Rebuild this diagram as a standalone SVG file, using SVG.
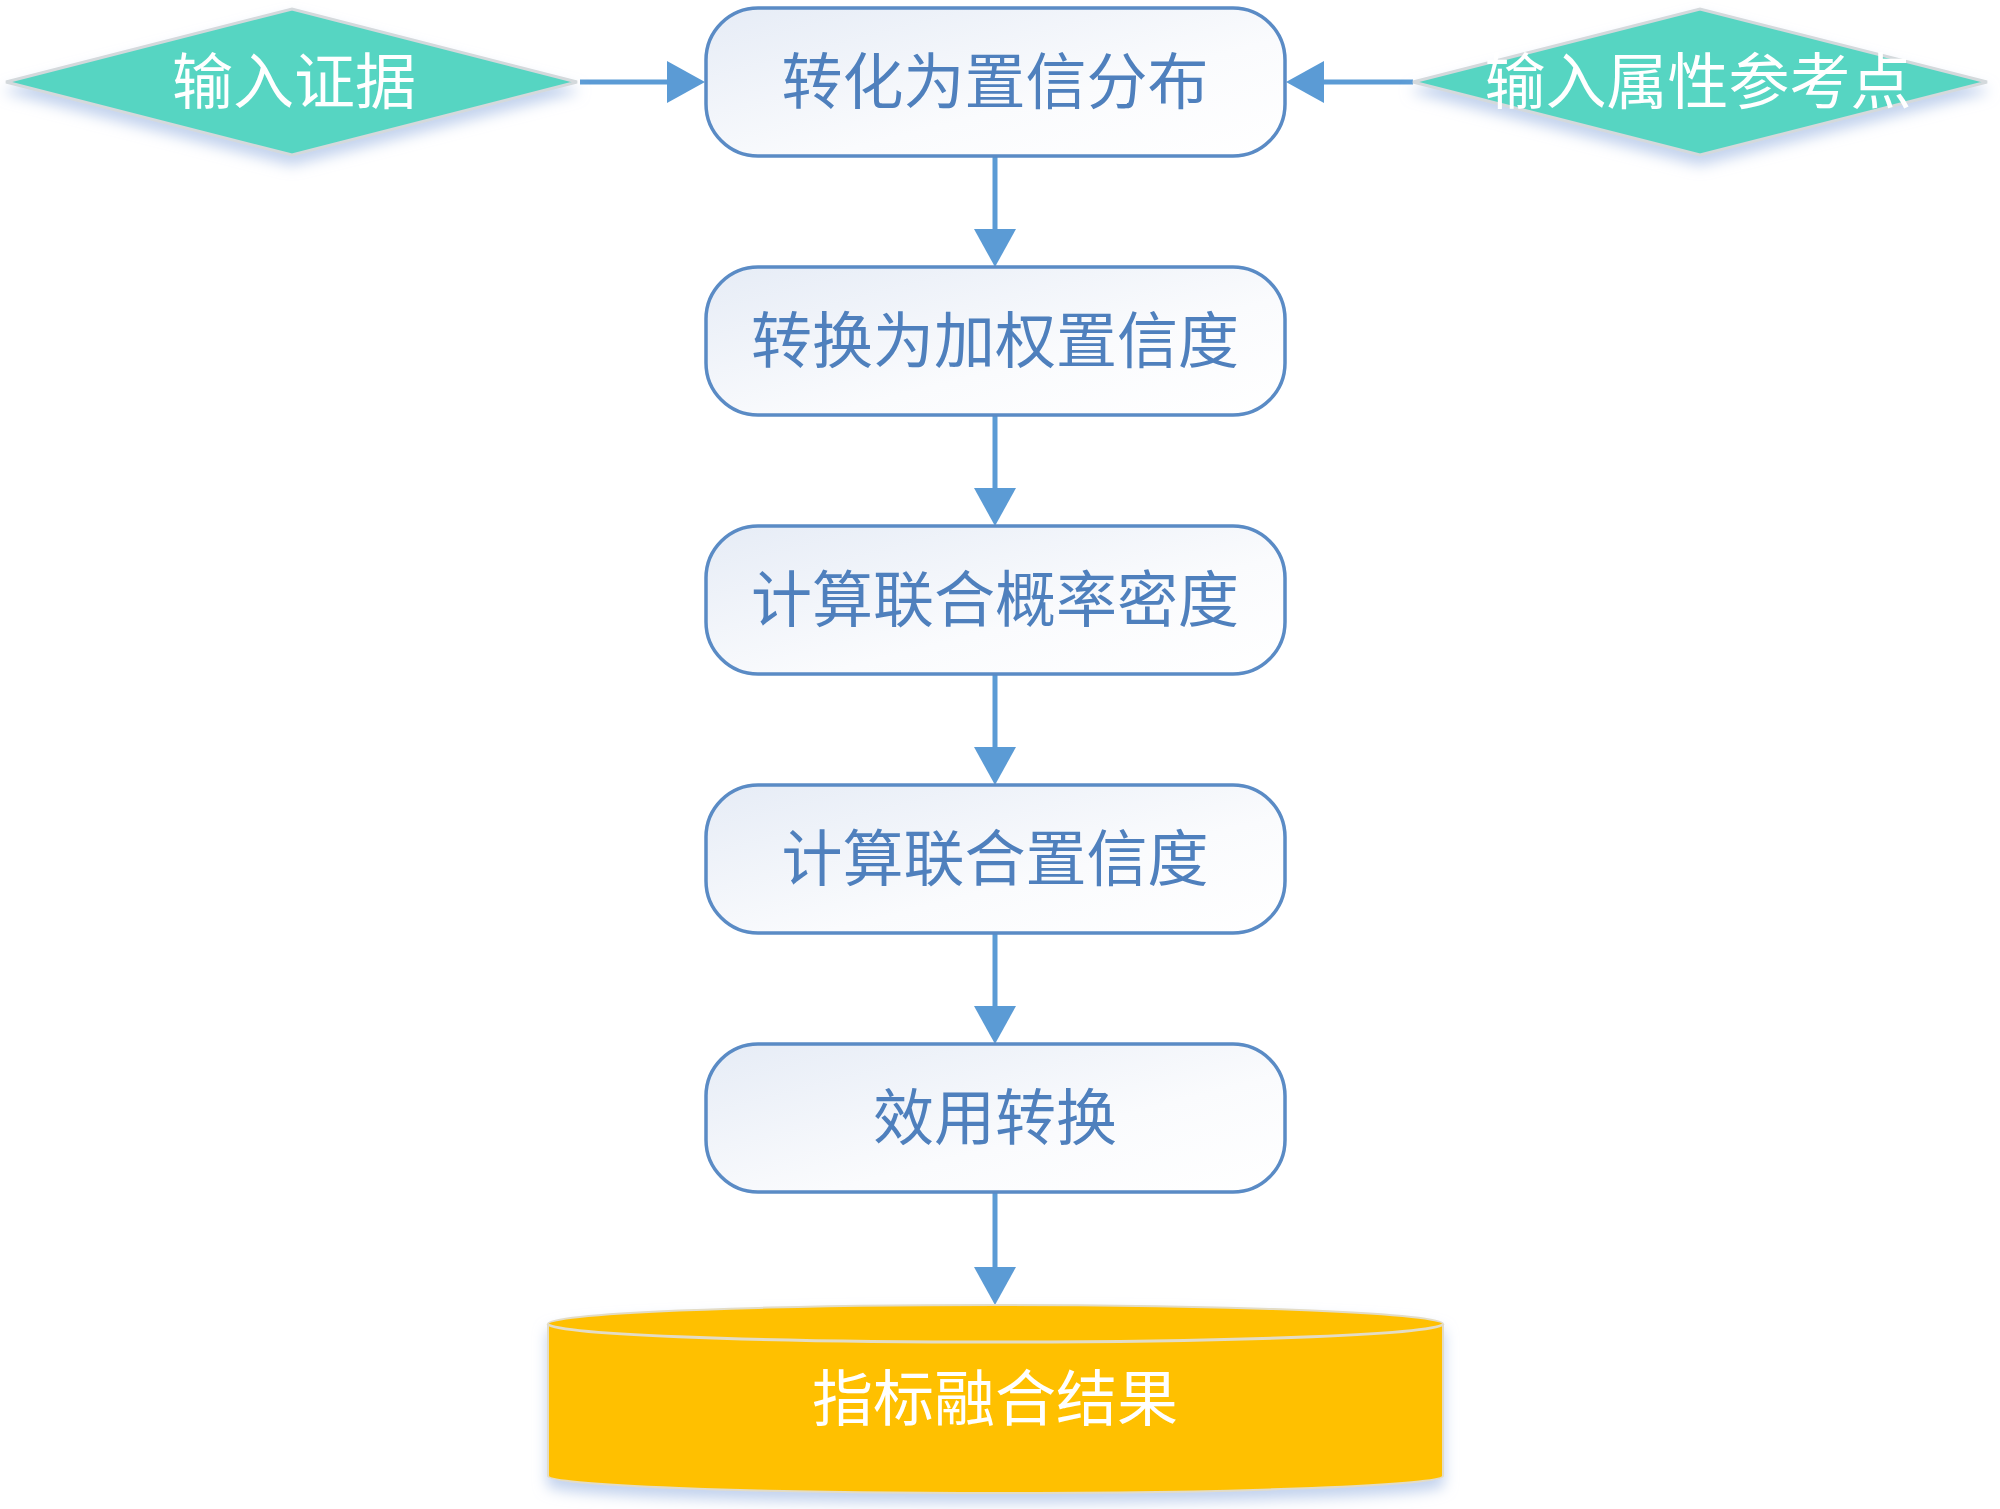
<svg xmlns="http://www.w3.org/2000/svg" width="2000" height="1509" viewBox="0 0 2000 1509">
<defs>
<linearGradient id="boxFill" x1="0" y1="0" x2="1" y2="1">
<stop offset="0" stop-color="#e6ecf6"/>
<stop offset="0.6" stop-color="#fafbfd"/>
<stop offset="1" stop-color="#ffffff"/>
</linearGradient>
<filter id="softShadow" x="-20%" y="-30%" width="140%" height="170%">
<feDropShadow dx="0" dy="9" stdDeviation="7" flood-color="#a9c0e6" flood-opacity="0.7"/>
</filter>
<marker id="arrow" markerUnits="userSpaceOnUse" markerWidth="40" markerHeight="42" refX="0" refY="21" orient="auto" viewBox="0 0 40 42">
<path d="M0,0 L38,21 L0,42 Z" fill="#5b9bd5"/>
</marker>
<style>
.box{fill:url(#boxFill);stroke:#5a8bc5;stroke-width:3.5}
.btxt{font-family:"Noto Sans CJK SC","Noto Sans",sans-serif;font-size:61px;fill:#4f80bd;text-anchor:middle;dominant-baseline:central}
.wtxt{font-family:"Noto Sans CJK SC","Noto Sans",sans-serif;font-size:61px;fill:#ffffff;text-anchor:middle;dominant-baseline:central}
.dia{fill:#57d5c2;stroke:#d4d9dc;stroke-width:3}
.conn{stroke:#5b9bd5;stroke-width:5;fill:none;marker-end:url(#arrow)}
</style>
</defs>
<rect width="2000" height="1509" fill="#ffffff"/>

<g id="connectors">
<line class="conn" x1="580" y1="82" x2="667" y2="82"/>
<line class="conn" x1="1413" y1="82" x2="1324" y2="82"/>
<line class="conn" x1="995" y1="156" x2="995" y2="229"/>
<line class="conn" x1="995" y1="415" x2="995" y2="488"/>
<line class="conn" x1="995" y1="674" x2="995" y2="747"/>
<line class="conn" x1="995" y1="933" x2="995" y2="1006"/>
<line class="conn" x1="995" y1="1192" x2="995" y2="1267"/>
</g>

<g id="input-evidence">
<polygon class="dia" filter="url(#softShadow)" points="6,82 292,9 577,82 292,155"/>
<text class="wtxt" x="294" y="77">输入证据</text>
</g>

<g id="input-reference">
<polygon class="dia" filter="url(#softShadow)" points="1413,82 1700,9 1987,82 1700,155"/>
<text class="wtxt" x="1698" y="77">输入属性参考点</text>
</g>

<g id="node1">
<rect class="box" x="706" y="8" width="579" height="148" rx="52" ry="52"/>
<text class="btxt" x="995" y="77">转化为置信分布</text>
</g>
<g id="node2">
<rect class="box" x="706" y="267" width="579" height="148" rx="52" ry="52"/>
<text class="btxt" x="995" y="336">转换为加权置信度</text>
</g>
<g id="node3">
<rect class="box" x="706" y="526" width="579" height="148" rx="52" ry="52"/>
<text class="btxt" x="995" y="595">计算联合概率密度</text>
</g>
<g id="node4">
<rect class="box" x="706" y="785" width="579" height="148" rx="52" ry="52"/>
<text class="btxt" x="995" y="854">计算联合置信度</text>
</g>
<g id="node5">
<rect class="box" x="706" y="1044" width="579" height="148" rx="52" ry="52"/>
<text class="btxt" x="995" y="1113">效用转换</text>
</g>

<g id="result">
<path filter="url(#softShadow)" d="M548,1324 A447.5,19 0 0 1 1443,1324 L1443,1476 A447.5,17 0 0 1 548,1476 Z" fill="#ffc000" stroke="#e3dcc6" stroke-width="2"/>
<path d="M548,1324 A447.5,18 0 0 0 1443,1324" fill="none" stroke="#e3dcc6" stroke-width="3"/>
<text class="wtxt" x="995" y="1394">指标融合结果</text>
</g>
</svg>
